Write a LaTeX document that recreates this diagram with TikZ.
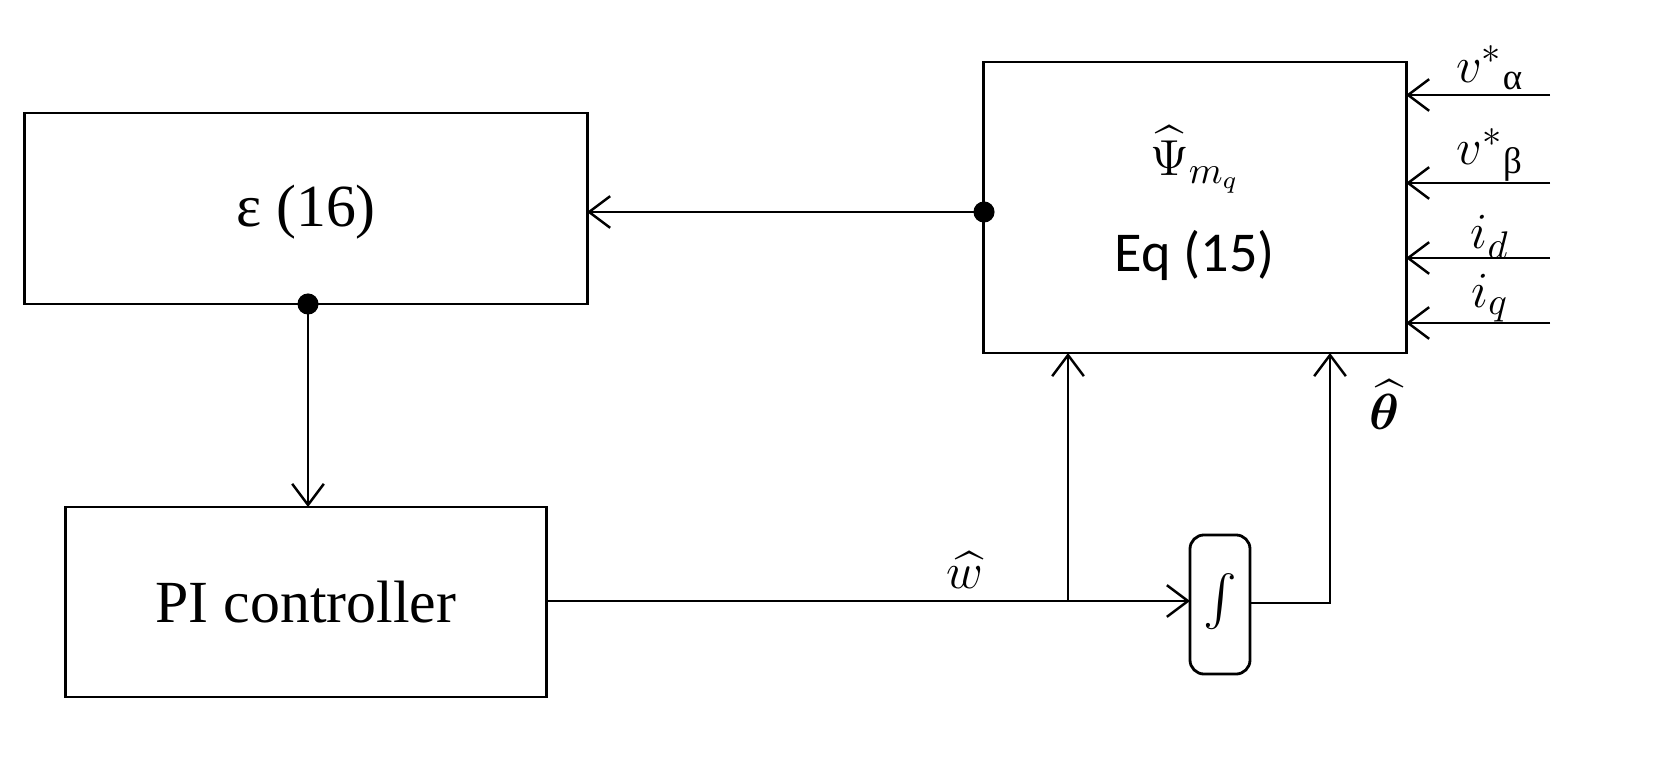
\documentclass[tikz,border=0pt]{standalone}
\usepackage{amsmath,bm}
\usepackage{fontspec}
\newfontfamily\carlitofont{Carlito}
\setmainfont{Liberation Serif}
\usetikzlibrary{arrows.meta}
\begin{document}
\begin{tikzpicture}[x=0.01cm,y=-0.01cm,
  blk/.style={draw,line width=0.8pt,inner sep=0},
  ar/.style={line width=0.7pt,-{Straight Barb[length=6pt,width=9pt]}},
  dot/.style={circle,fill,inner sep=0,minimum size=6pt},
  lab/.style={font=\fontsize{15}{17}\selectfont}]
\useasboundingbox (0,0) rectangle (1655,764);
\node[blk,minimum width=5.62cm,minimum height=1.91cm] (eps) at (306,208.5) {};
\node[lab,font=\fontsize{17}{19}\selectfont] at (306,212) {ε (16)};
\node[blk,minimum width=4.22cm,minimum height=2.91cm] (psi) at (1195,207.5) {};
\node[lab] at (1195,160) {$\widehat{\Psi}_{m_q}$};
\node[lab,font=\fontsize{16}{18}\carlitofont] at (1195,255) {Eq (15)};
\node[blk,minimum width=4.80cm,minimum height=1.90cm] (pi) at (306,602) {};
\node[lab,font=\fontsize{17}{19}\selectfont] at (306,602) {PI controller};
\node[blk,rounded corners=4pt,minimum width=0.60cm,minimum height=1.39cm] (int) at (1220,604.5) {};
\node[lab] at (1220,602) {$\int$};
\coordinate (pe) at (984,212);
\coordinate (ee) at (587,212);
\draw[ar] (pe) -- (ee);
\node[dot] at (pe) {};
\coordinate (eb) at (308,304);
\coordinate (pt) at (308,507);
\draw[ar] (eb) -- (pt);
\node[dot] at (eb) {};
\coordinate (pr) at (546,601);
\coordinate (il) at (1190,601);
\coordinate (br) at (1068,601);
\coordinate (pb1) at (1068,353);
\draw[ar] (pr) -- (il);
\draw[ar] (br) -- (pb1);
\node[lab] at (965,570) {$\widehat{w}$};
\coordinate (ir) at (1250,603);
\coordinate (pb2) at (1330,353);
\draw[ar] (ir) -| (pb2);
\node[lab] at (1385,405) {$\widehat{\bm{\theta}}$};
\foreach \y/\t/\ly in {95/{v^*{}_{\text{α}}}/68, 183/{v^*{}_{\text{β}}}/155, 258/{i_d}/237, 323/{i_q}/298}{
  \coordinate (s) at (1550,\y);
  \coordinate (t) at (1406,\y);
  \draw[ar] (s) -- (t);
  \node[lab] at (1490,\ly) {$\t$};
}
\end{tikzpicture}
\end{document}
